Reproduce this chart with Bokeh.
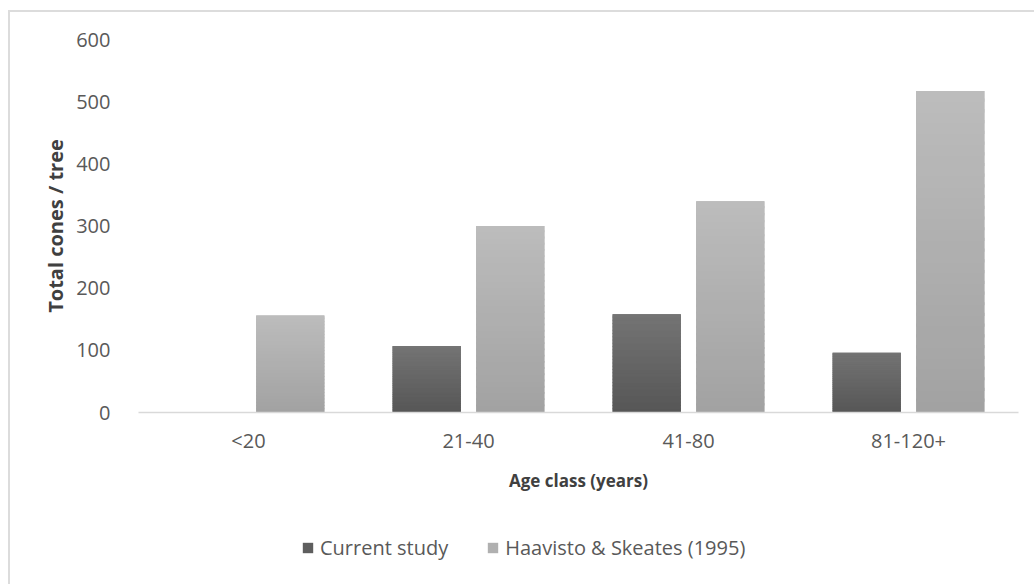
from bokeh.plotting import figure
from bokeh.layouts import column
from bokeh.models import ColumnDataSource, FactorRange, Range1d, Legend, LegendItem
from bokeh.transform import dodge
from bokeh.embed import file_html
from bokeh.resources import INLINE

categories = ["<20", "21-40", "41-80", "81-120+"]
current_study = [0, 107, 158, 96]
haavisto = [156, 300, 340, 517]
series_names = ["Current study", "Haavisto & Skeates (1995)"]
y_ticks = [0, 100, 200, 300, 400, 500, 600]

FONT = "Open Sans"
N_STRIPS = 30


def hexmix(c0, c1, t):
    a = [int(c0[i:i + 2], 16) for i in (1, 3, 5)]
    b = [int(c1[i:i + 2], 16) for i in (1, 3, 5)]
    return "#%02x%02x%02x" % tuple(round(a[k] + (b[k] - a[k]) * t) for k in range(3))


p = figure(width=1024, height=508, x_range=FactorRange(*categories, range_padding=0),
           y_range=Range1d(0, 600), output_backend="svg", toolbar_location=None,
           min_border_left=128, min_border_right=16, min_border_top=27, min_border_bottom=108)
p.outline_line_color = None
p.background_fill_color = "white"
p.border_fill_color = "white"
p.xgrid.grid_line_color = None
p.ygrid.grid_line_color = None

series = [
    (current_study, -0.19, "#5e5e5e", "#565656", "#747474"),
    (haavisto, 0.19, "#b0b0b0", "#a2a2a2", "#bcbcbc"),
]

sources = []
for (vals, off, mid, bot, top), name in zip(series, series_names):
    src = ColumnDataSource(dict(cat=categories, v=vals))
    sources.append(src)
    p.vbar(x=dodge("cat", off, range=p.x_range), top="v", bottom=0, width=0.31,
           source=src, fill_color=mid, line_color=None)
    cats, b0, t0, cols = [], [], [], []
    for c, v in zip(categories, vals):
        if v <= 0:
            continue
        for k in range(N_STRIPS):
            cats.append(c)
            b0.append(v * k / N_STRIPS)
            t0.append(min(v, v * (k + 1.3) / N_STRIPS))
            cols.append(hexmix(bot, top, (k + 0.5) / N_STRIPS))
    s2 = ColumnDataSource(dict(cat=cats, b=b0, t=t0, col=cols))
    p.vbar(x=dodge("cat", off, range=p.x_range), top="t", bottom="b", width=0.31,
           source=s2, fill_color="col", line_color=None)

# axes
p.yaxis.ticker = y_ticks
p.yaxis.axis_line_color = None
p.yaxis.major_tick_line_color = None
p.yaxis.minor_tick_line_color = None
p.yaxis.major_label_standoff = 22
p.yaxis.major_label_text_font = FONT
p.yaxis.major_label_text_font_size = "20px"
p.yaxis.major_label_text_color = "#595959"
p.yaxis.axis_label = "Total cones / tree"
p.yaxis.axis_label_text_font = FONT
p.yaxis.axis_label_text_font_style = "bold"
p.yaxis.axis_label_text_font_size = "20px"
p.yaxis.axis_label_text_color = "#404040"
p.yaxis.axis_label_standoff = 4

p.xaxis.axis_line_color = "#d9d9d9"
p.xaxis.axis_line_width = 1.5
p.xaxis.major_tick_line_color = None
p.xaxis.minor_tick_line_color = None
p.xaxis.major_label_standoff = 8
p.xaxis.major_label_text_font = FONT
p.xaxis.major_label_text_font_size = "20px"
p.xaxis.major_label_text_color = "#595959"
p.xaxis.axis_label = "Age class (years)"
p.xaxis.axis_label_text_font = FONT
p.xaxis.axis_label_text_font_style = "bold"
p.xaxis.axis_label_text_font_size = "17px"
p.xaxis.axis_label_text_color = "#404040"
p.xaxis.axis_label_standoff = 12

# legend strip (separate small canvas below the chart; its bars fall far outside its view)
lg = figure(width=1024, height=64, x_range=p.x_range, y_range=Range1d(5000, 6000),
            output_backend="svg", toolbar_location=None, x_axis_type=None, y_axis_type=None,
            min_border=0)
lg.outline_line_color = None
lg.xgrid.grid_line_color = None
lg.ygrid.grid_line_color = None
items = []
for (vals, off, mid, bot, top), name, src in zip(series, series_names, sources):
    r = lg.vbar(x=dodge("cat", off, range=p.x_range), top="v", bottom=0, width=0.31,
                source=src, fill_color=mid, line_color=None)
    items.append(LegendItem(label=name, renderers=[r]))
legend = Legend(items=items, orientation="horizontal", location=(163, 23),
                label_text_font=FONT, label_text_font_size="20px", label_text_color="#595959",
                glyph_width=13, glyph_height=13, label_standoff=6, spacing=38,
                padding=0, margin=0, border_line_color=None, background_fill_alpha=0)
lg.add_layout(legend, "center")

layout = column(p, lg, spacing=0)
layout.styles = {"margin-left": "8px", "margin-top": "10px",
                 "border-left": "2px solid #dcdcdc", "border-top": "2px solid #dcdcdc"}

open("out.html", "w").write(file_html(layout, INLINE))
